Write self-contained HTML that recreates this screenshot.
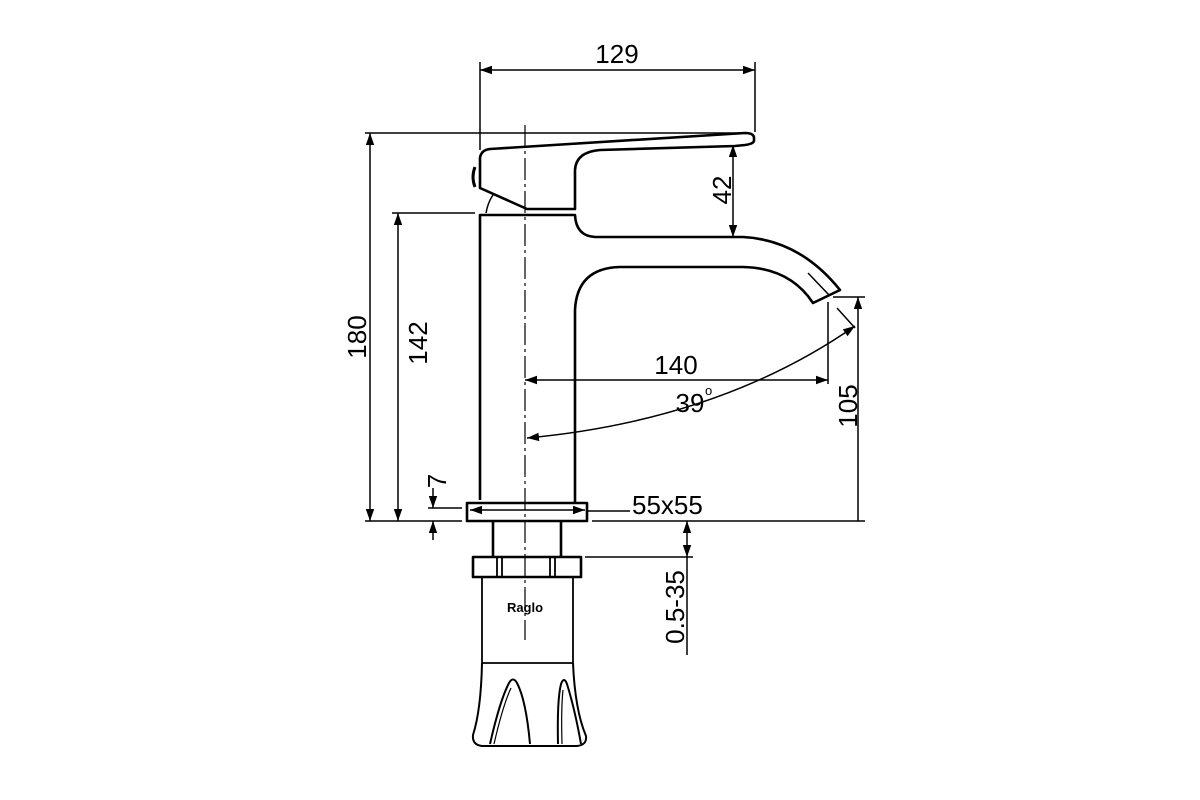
<!DOCTYPE html>
<html><head><meta charset="utf-8"><style>
html,body{margin:0;padding:0;background:#fff;}
svg{display:block;}
text{font-family:"Liberation Sans",Arial,sans-serif;fill:#000;}
</style></head><body>
<svg width="1200" height="800" viewBox="0 0 1200 800" xmlns="http://www.w3.org/2000/svg">
<defs>
<marker id="a" viewBox="0 0 10 10" refX="10" refY="5" markerWidth="12" markerHeight="12" markerUnits="userSpaceOnUse" orient="auto-start-reverse">
<path d="M0,1.5 L10,5 L0,8.5 Z" fill="#000"/></marker>
</defs>
<g fill="none" stroke="#000" stroke-width="1.5">
<line x1="480" y1="62" x2="480" y2="150"/>
<line x1="755" y1="62" x2="755" y2="132"/>
<line x1="480" y1="70" x2="755" y2="70" marker-start="url(#a)" marker-end="url(#a)"/>
<line x1="365" y1="133" x2="745" y2="133"/>
<line x1="370" y1="133" x2="370" y2="521" marker-start="url(#a)" marker-end="url(#a)"/>
<line x1="392" y1="213" x2="475" y2="213"/>
<line x1="398" y1="213" x2="398" y2="521" marker-start="url(#a)" marker-end="url(#a)"/>
<line x1="365" y1="521" x2="462" y2="521"/>
<line x1="592" y1="521" x2="865" y2="521"/>
<line x1="428" y1="508" x2="462" y2="508"/>
<line x1="433" y1="488" x2="433" y2="508" marker-end="url(#a)"/>
<line x1="433" y1="540" x2="433" y2="521" marker-end="url(#a)"/>
<line x1="470" y1="510" x2="585" y2="510" marker-start="url(#a)" marker-end="url(#a)"/>
<line x1="587" y1="511" x2="630" y2="511"/>
<line x1="585" y1="557" x2="693" y2="557"/>
<line x1="687" y1="521" x2="687" y2="557" marker-start="url(#a)" marker-end="url(#a)"/>
<line x1="687" y1="557" x2="687" y2="655"/>
<line x1="733" y1="145" x2="733" y2="237" marker-start="url(#a)" marker-end="url(#a)"/>
<line x1="833" y1="297" x2="865" y2="297"/>
<line x1="858" y1="521" x2="858" y2="297" marker-end="url(#a)"/>
<line x1="828" y1="302" x2="828" y2="384"/>
<line x1="525" y1="380" x2="828" y2="380" marker-start="url(#a)" marker-end="url(#a)"/>
<path d="M527,438 Q720,420 855,326" marker-start="url(#a)" marker-end="url(#a)"/>
<line x1="808" y1="273" x2="830" y2="296"/>
<line x1="837" y1="308" x2="855" y2="328"/>
<line x1="525" y1="125" x2="525" y2="640" stroke-width="1.2" stroke-dasharray="22,4,3,4"/>
</g>
<g fill="none" stroke="#000" stroke-width="2.6" stroke-linejoin="round">
<path d="M480,188 L480,158 Q481,150 490,149 L745,133 Q754,133 754,138 L754,141 Q753,144 745,145 L735,146 L600,150 Q576,152 575,170 L575,209 L527,209 Z"/>
<path d="M475,167 Q471,177 475,187" stroke-width="3"/>
<path d="M486,213 Q488,202 493,195" stroke-width="1.5"/>
<path d="M480,500 L480,215 L575,215 Q576,236 595,237 L743,237 Q800,240 840,290 L813,303 Q790,268 743,267 L620,267 Q577,268 575,310 L575,502"/>
<rect x="467" y="503" width="120" height="18"/>
<line x1="493" y1="521" x2="493" y2="557"/>
<line x1="561" y1="521" x2="561" y2="557"/>
<rect x="473" y="557" width="108" height="20"/>
<g stroke-width="1.8">
<line x1="497" y1="557" x2="497" y2="577"/><line x1="502" y1="557" x2="502" y2="577"/>
<line x1="550" y1="557" x2="550" y2="577"/><line x1="555" y1="557" x2="555" y2="577"/>
</g>
<line x1="482" y1="577" x2="482" y2="663" stroke-width="1.8"/>
<line x1="573" y1="577" x2="573" y2="663" stroke-width="1.8"/>
<line x1="482" y1="663" x2="573" y2="663" stroke-width="1.8"/>
<path d="M482,663 Q481,710 473,735 Q472,745 482,746 L577,746 Q587,745 586,736 Q575,710 573,663" stroke-width="2"/>
<path d="M490,744 Q500,700 509,683 Q513,676 517,683 Q526,700 530,744" stroke-width="2"/>
<path d="M494,744 Q503,705 511,688" stroke-width="1.2"/>
<path d="M558,744 Q557,700 561,684 Q564,676 567,684 Q575,710 581,744" stroke-width="2"/>
<path d="M562,744 Q561,708 563,690" stroke-width="1.2"/>
</g>
<g font-size="26">
<text x="617" y="63" text-anchor="middle">129</text>
<text x="676" y="374" text-anchor="middle">140</text>
<text x="690" y="412" text-anchor="middle">39</text>
<text x="705" y="395" font-size="13">o</text>
<text x="632" y="514">55x55</text>
<text transform="translate(366,337) rotate(-90)" text-anchor="middle">180</text>
<text transform="translate(427,343) rotate(-90)" text-anchor="middle">142</text>
<text transform="translate(446,481) rotate(-90)" text-anchor="middle">7</text>
<text transform="translate(731,190) rotate(-90)" text-anchor="middle">42</text>
<text transform="translate(857,406) rotate(-90)" text-anchor="middle">105</text>
<text transform="translate(684,607) rotate(-90)" text-anchor="middle">0.5-35</text>
</g>
<text x="525" y="612" text-anchor="middle" font-size="13" font-weight="bold">Raglo</text>
</svg>
</body></html>
